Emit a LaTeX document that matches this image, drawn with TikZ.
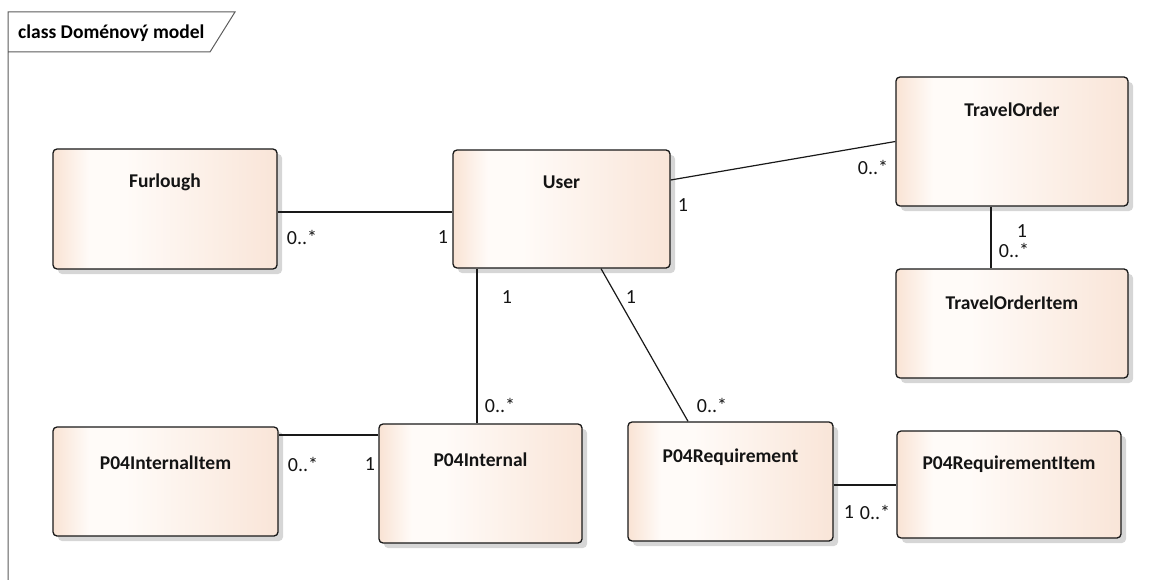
\documentclass[tikz,border=0pt]{standalone}
\usepackage{fontspec}
\setmainfont{Carlito}
\usetikzlibrary{shadows,calc}
\definecolor{pkL}{RGB}{249,227,212}
\definecolor{pkR}{RGB}{249,229,216}
\definecolor{wh}{RGB}{255,251,248}
\definecolor{framec}{RGB}{90,90,90}
\pgfdeclarehorizontalshading{clsshade}{100bp}{color(0bp)=(pkL); color(25bp)=(pkL); color(33bp)=(wh); color(41bp)=(wh); color(75bp)=(pkR); color(100bp)=(pkR)}
\tikzset{
  cls/.style={draw=black!90, line width=1.3pt, rounded corners=4pt, shading=clsshade, shading angle=0,
    drop shadow={shadow xshift=5pt, shadow yshift=-5pt, fill=black!16, opacity=1},
    inner sep=0pt},
  clsname/.style={font=\fontsize{19.5}{23}\selectfont\bfseries, inner sep=0pt, text=black!92},
  mult/.style={font=\fontsize{20}{23}\selectfont, inner sep=0pt, text=black!92},
  assoc/.style={draw=black!90, line width=1.2pt},
  framel/.style={draw=framec, line width=1pt}
}
\begin{document}
\begin{tikzpicture}[x=1pt,y=-1pt]
\useasboundingbox (0,0) rectangle (1166,580);
% frame
\draw[framel] (8,580) -- (8,12) -- (235,12) -- (210,52) -- (8,52);
\node[font=\fontsize{19.5}{23}\selectfont\bfseries, anchor=west, inner sep=0pt] (ftitle) at (18,33) {class Doménový model};
% classes
\node[cls, minimum width=224pt, minimum height=120pt] (furlough) at (165,209) {};
\node[cls, minimum width=217pt, minimum height=118pt] (user) at (561.5,209) {};
\node[cls, minimum width=232pt, minimum height=129pt] (travel) at (1012,141.5) {};
\node[cls, minimum width=232pt, minimum height=109pt] (travelitem) at (1012,323.5) {};
\node[cls, minimum width=225pt, minimum height=109pt] (intitem) at (165.5,481.5) {};
\node[cls, minimum width=203pt, minimum height=119pt] (internal) at (480.5,483.5) {};
\node[cls, minimum width=205pt, minimum height=119pt] (req) at (730.5,481.5) {};
\node[cls, minimum width=224pt, minimum height=107pt] (reqitem) at (1009,484.5) {};
% class names
\node[clsname] (nfurlough) at ([yshift=-34pt]furlough.north) {Furlough};
\node[clsname] (nuser) at ([yshift=-33pt]user.north) {User};
\node[clsname] (ntravel) at ([yshift=-33pt]travel.north) {TravelOrder};
\node[clsname] (ntravelitem) at ([yshift=-34pt]travelitem.north) {TravelOrderItem};
\node[clsname] (nintitem) at ([yshift=-36pt]intitem.north) {P04InternalItem};
\node[clsname] (ninternal) at ([yshift=-36pt]internal.north) {P04Internal};
\node[clsname] (nreq) at ([yshift=-36pt]req.north) {P04Requirement};
\node[clsname] (nreqitem) at ([yshift=-34pt]reqitem.north) {P04RequirementItem};
% associations
\draw[assoc] ([yshift=-3pt]furlough.east) -- ([yshift=-3pt]furlough.east -| user.west);
\draw[assoc] ([yshift=29pt]user.east) -- (travel.west);
\draw[assoc] ([xshift=-21pt]travel.south) coordinate (tA) -- (tA |- travelitem.north);
\draw[assoc] ([xshift=-84.5pt]user.south) coordinate (uA) -- (uA |- internal.north);
\draw[assoc] ([xshift=39.5pt]user.south) -- ([xshift=-42.5pt]req.north);
\draw[assoc] ([yshift=48.5pt]internal.west) coordinate (iA) -- (iA -| intitem.east);
\draw[assoc] ([yshift=-3.5pt]req.east) coordinate (rA) -- (rA -| reqitem.west);
% multiplicities
\node[mult] (m1) at (302,237) {0..*};
\node[mult] (m2) at (443,237) {1};
\node[mult] (m3) at (683,205) {1};
\node[mult] (m4) at (873,167) {0..*};
\node[mult] (m5) at (1022,231) {1};
\node[mult] (m6) at (1014,250) {0..*};
\node[mult] (m7) at (507,297) {1};
\node[mult] (m8) at (500,405) {0..*};
\node[mult] (m9) at (631,297) {1};
\node[mult] (m10) at (712,405) {0..*};
\node[mult] (m11) at (303,464) {0..*};
\node[mult] (m12) at (370,464) {1};
\node[mult] (m13) at (849,512) {1};
\node[mult] (m14) at (875,512) {0..*};
\end{tikzpicture}
\end{document}
